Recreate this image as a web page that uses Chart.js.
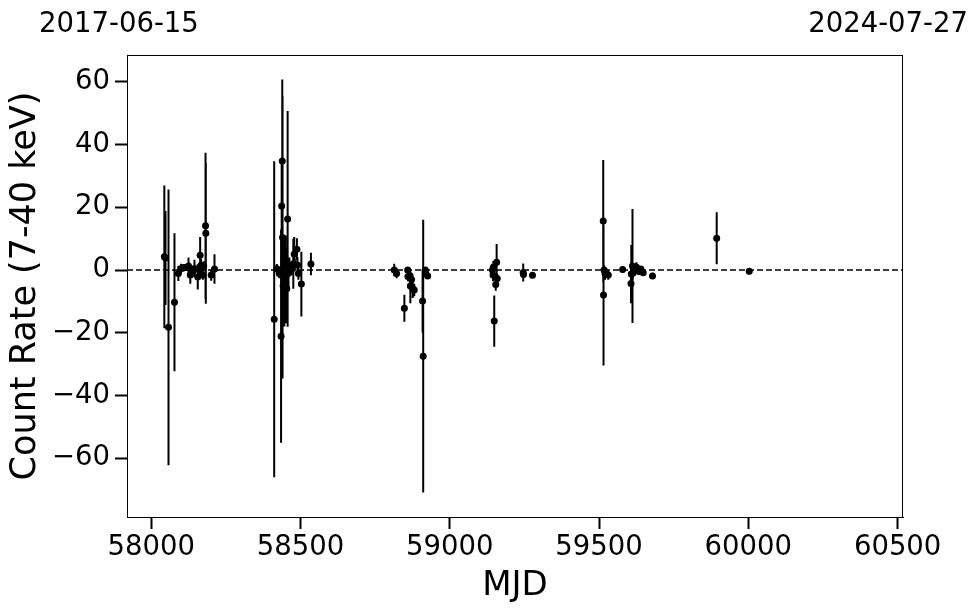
<!DOCTYPE html>
<html>
<head>
<meta charset="utf-8">
<script src="https://cdn.jsdelivr.net/npm/chart.js@4"></script>
<style>
  body { margin: 0; background: #fff; }
  canvas { display: block; }
</style>
</head>
<body>
<canvas id="lc" width="980" height="613"></canvas>
<script>
// light curve: MJD, count rate, 1-sigma error
const mjd = [
  58044, 58048, 58058, 58078, 58091, 58100, 58108, 58116, 58125, 58131,
  58140, 58145, 58156, 58162, 58164, 58167, 58173, 58176, 58182, 58183,
  58201, 58212,
  58412, 58421, 58429, 58435, 58437, 58439, 58440, 58442, 58444, 58446,
  58448, 58450, 58452, 58454, 58457, 58460, 58463, 58469, 58476, 58479,
  58481, 58488, 58490, 58493, 58503, 58535,
  58814, 58822, 58848, 58859, 58860, 58867, 58868, 58872, 58876, 58881,
  58909, 58911, 58918, 58920, 58926,
  59143, 59145, 59146, 59149, 59154, 59157, 59159, 59246, 59247, 59277,
  59514, 59515, 59517, 59520, 59531, 59579, 59607, 59608, 59612, 59613,
  59625, 59633, 59640, 59648, 59679,
  59894, 60003
];
const rate = [
  4.2, 3.8, -18.3, -10.3, -1.1, 0.5, 0.7, 0.8, 1.3, -1.6,
  -0.4, 0.5, -2.2, -0.1, 4.7, 1.5, -1.6, 1.3, 14.1, 11.7,
  -1.6, 0.3,
  -15.7, 0.4, -1.1, -21.1, 20.4, 34.8, 10.4, -5.0, 2.0, -8.0,
  0.0, -3.0, 3.0, -6.0, 16.3, -1.0, 1.0, 0.4, 2.0, 5.0,
  1.7, 6.6, 1.6, -1.1, -4.5, 1.9,
  0.0, -1.1, -12.2, 0.0, -2.1, -1.8, -5.1, -3.0, -5.9, -6.4,
  -9.9, -27.5, 0.0, -1.1, -1.9,
  0.0, -1.6, 0.9, -16.3, -4.6, 2.5, -2.7, -0.8, -1.4, -1.7,
  15.6, -8.0, 0.0, -1.1, -1.6, 0.2, -4.3, -1.3, 1.3, -1.0,
  1.0, -0.5, 0.3, -0.9, -1.9,
  10.1, -0.4
];
const rateErr = [
  22.8, 15.0, 44.0, 22.0, 2.4, 1.5, 1.2, 1.0, 2.7, 2.8,
  1.5, 2.8, 4.0, 1.5, 5.8, 2.0, 1.5, 1.5, 23.3, 22.5,
  1.8, 4.7,
  50.4, 1.5, 1.5, 34.0, 14.0, 26.0, 45.0, 12.0, 8.0, 10.0,
  6.0, 14.0, 4.0, 11.0, 34.4, 5.0, 3.0, 2.0, 8.0, 5.5,
  2.0, 3.5, 2.5, 2.0, 10.3, 3.6,
  2.0, 1.5, 4.3, 1.0, 1.5, 2.0, 5.5, 2.0, 3.0, 2.0,
  10.0, 43.5, 1.0, 1.0, 1.0,
  2.0, 2.0, 2.0, 8.2, 2.0, 5.8, 1.5, 2.9, 1.0, 0.8,
  19.5, 22.5, 1.5, 2.0, 1.5, 1.0, 6.3, 9.3, 18.2, 2.0,
  1.5, 1.0, 1.0, 1.0, 1.0,
  8.3, 1.0
];

const xMin = 57919, xMax = 60518;
const yMin = -78.8, yMax = 68.6;
const xTicks = [58000, 58500, 59000, 59500, 60000, 60500];
const yTicks = [-60, -40, -20, 0, 20, 40, 60];
const dateLabels = ['2017-06-15', '2024-07-27'];

const FONT = 'DejaVu Sans';

const errorBars = {
  id: 'errorBars',
  beforeDatasetsDraw(chart) {
    const { ctx, chartArea: a, scales: { x, y } } = chart;
    ctx.save();
    ctx.beginPath();
    ctx.rect(a.left, a.top, a.right - a.left, a.bottom - a.top);
    ctx.clip();
    ctx.strokeStyle = '#000';
    ctx.lineWidth = 2;
    ctx.beginPath();
    mjd.forEach((m, i) => {
      const px = x.getPixelForValue(m);
      ctx.moveTo(px, y.getPixelForValue(rate[i] + rateErr[i]));
      ctx.lineTo(px, y.getPixelForValue(rate[i] - rateErr[i]));
    });
    ctx.stroke();
    ctx.restore();
  }
};

const frameAndDates = {
  id: 'frameAndDates',
  afterDraw(chart) {
    const { ctx, chartArea: a } = chart;
    ctx.save();
    ctx.strokeStyle = '#000';
    ctx.lineWidth = 1;
    ctx.strokeRect(a.left + 0.5, a.top + 0.5, a.right - a.left - 1, a.bottom - a.top);
    ctx.fillStyle = '#000';
    ctx.font = '27.5px "' + FONT + '"';
    ctx.textBaseline = 'alphabetic';
    ctx.textAlign = 'left';
    ctx.fillText(dateLabels[0], 39, 32);
    ctx.textAlign = 'right';
    ctx.fillText(dateLabels[1], 968, 32);
    ctx.restore();
  }
};

const tickGrid = { drawOnChartArea: false, drawTicks: true, tickLength: 12, tickWidth: 2, tickColor: '#000' };

new Chart(document.getElementById('lc').getContext('2d'), {
  type: 'scatter',
  data: {
    datasets: [
      {
        type: 'line',
        data: [{ x: xMin, y: 0 }, { x: xMax, y: 0 }],
        borderColor: '#000', borderWidth: 1.5, borderDash: [6, 3],
        pointRadius: 0, order: 2
      },
      {
        data: mjd.map((m, i) => ({ x: m, y: rate[i] })),
        backgroundColor: '#000', borderColor: '#000',
        pointRadius: 3.5, borderWidth: 0, order: 1
      }
    ]
  },
  options: {
    responsive: false,
    animation: false,
    layout: { padding: { top: 55, right: 77, left: 0, bottom: 0 } },
    plugins: { legend: { display: false }, tooltip: { enabled: false } },
    scales: {
      x: {
        type: 'linear', min: xMin, max: xMax,
        afterBuildTicks: s => { s.ticks = xTicks.map(v => ({ value: v })); },
        afterFit: s => { s.height = 96; },
        grid: tickGrid,
        border: { display: true, color: '#000', width: 1 },
        ticks: { color: '#000', font: { family: FONT, size: 27.5 }, padding: 2, maxRotation: 0, autoSkip: false, callback: v => String(v) },
        title: { display: true, text: 'MJD', color: '#000', font: { family: FONT, size: 34 }, padding: { top: 0, bottom: 6 } }
      },
      y: {
        type: 'linear', min: yMin, max: yMax,
        afterBuildTicks: s => { s.ticks = yTicks.map(v => ({ value: v })); },
        afterFit: s => { s.width = 127; },
        grid: tickGrid,
        border: { display: true, color: '#000', width: 1 },
        ticks: { color: '#000', font: { family: FONT, size: 27.5 }, padding: 5, autoSkip: false, callback: v => v < 0 ? '\u2212' + Math.abs(v) : String(v) },
        title: { display: true, text: 'Count Rate (7-40 keV)', color: '#000', font: { family: FONT, size: 35 }, padding: { top: 5, bottom: 0 } }
      }
    }
  },
  plugins: [errorBars, frameAndDates]
});
</script>
</body>
</html>
